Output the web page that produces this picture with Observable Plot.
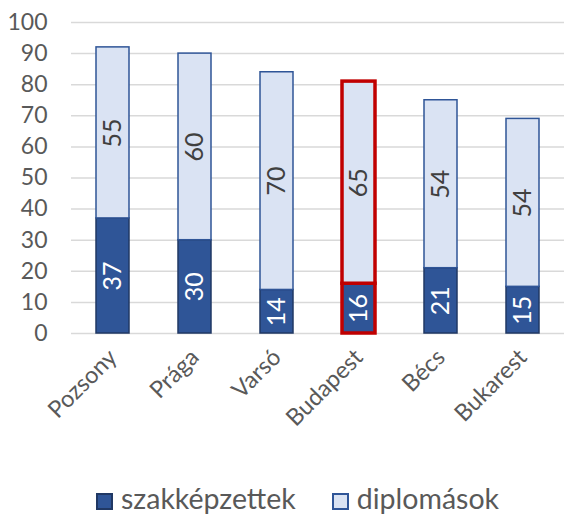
<!DOCTYPE html>
<html>
<head>
<meta charset="utf-8">
<script src="https://cdn.jsdelivr.net/npm/d3@7"></script>
<script src="https://cdn.jsdelivr.net/npm/@observablehq/plot@0.6"></script>
<style>
  body { margin: 0; background: #fff; font-family: Lato, "Noto Sans", sans-serif; }
  #chart svg { display: block; }
  #legend { display: flex; justify-content: flex-start; align-items: flex-end; gap: 36px; padding-left: 96px; height: 60px; font-size: 28.5px; line-height: 34px; color: #595959; }
  .item { display: flex; align-items: center; gap: 8px; }
  .sw { width: 17px; height: 17px; box-sizing: border-box; position: relative; top: 3px; }
</style>
</head>
<body>
<div id="chart"></div>
<div id="legend"></div>
<script>
const cities = ["Pozsony", "Prága", "Varsó", "Budapest", "Bécs", "Bukarest"];
const seriesNames = ["szakképzettek", "diplomások"];
const szakkepzettek = [37, 30, 14, 16, 21, 15];
const diplomasok = [55, 60, 70, 65, 54, 54];
const yTicks = [0, 10, 20, 30, 40, 50, 60, 70, 80, 90, 100];
const highlight = "Budapest";

const fills = {"szakképzettek": "#2F5597", "diplomások": "#DAE3F3"};
const strokes = {"szakképzettek": "#203864", "diplomások": "#2F5597"};
const textFills = {"szakképzettek": "#ffffff", "diplomások": "#404040"};

const rows = [];
cities.forEach((c, i) => {
  rows.push({city: c, series: seriesNames[0], value: szakkepzettek[i]});
  rows.push({city: c, series: seriesNames[1], value: diplomasok[i]});
});

const chart = Plot.plot({
  width: 564,
  height: 455,
  marginLeft: 71,
  marginRight: 0,
  marginTop: 22,
  marginBottom: 122,
  style: {fontFamily: "Lato, 'Noto Sans', sans-serif", color: "#595959", background: "#fff"},
  x: {domain: cities, paddingInner: 0.6, paddingOuter: 0.3, align: 0.5, label: null},
  y: {domain: [0, 100], ticks: yTicks, label: null},
  color: {type: "identity"},
  marks: [
    Plot.ruleY(yTicks, {stroke: "#d9d9d9", strokeWidth: 1.5}),
    Plot.axisY({ticks: yTicks, tickSize: 0, tickPadding: 24, fontSize: 23, fill: "#595959", label: null}),
    Plot.axisX({tickSize: 0, tickRotate: -45, tickPadding: 20, dx: 0, fontSize: 23.5, fill: "#595959", label: null}),
    Plot.barY(rows, Plot.stackY({
      x: "city", y: "value", order: null,
      fill: d => fills[d.series],
      stroke: d => d.city === highlight ? null : strokes[d.series],
      strokeWidth: 1.5
    })),
    Plot.barY(rows.filter(d => d.city === highlight), Plot.stackY({
      x: "city", y: "value", order: null,
      fill: d => fills[d.series],
      stroke: "#C00000",
      strokeWidth: 3.5
    })),
    Plot.text(rows, Plot.stackY({
      x: "city", y: "value", order: null,
      text: d => String(d.value),
      rotate: -90,
      fontSize: 25,
      fill: d => textFills[d.series]
    }))
  ]
});
document.getElementById("chart").appendChild(chart);

const legend = document.getElementById("legend");
seriesNames.forEach(s => {
  const item = document.createElement("div");
  item.className = "item";
  const sw = document.createElement("div");
  sw.className = "sw";
  sw.style.background = fills[s];
  sw.style.border = "2px solid " + strokes[s];
  const t = document.createElement("span");
  t.textContent = s;
  item.appendChild(sw);
  item.appendChild(t);
  legend.appendChild(item);
});
</script>
</body>
</html>
